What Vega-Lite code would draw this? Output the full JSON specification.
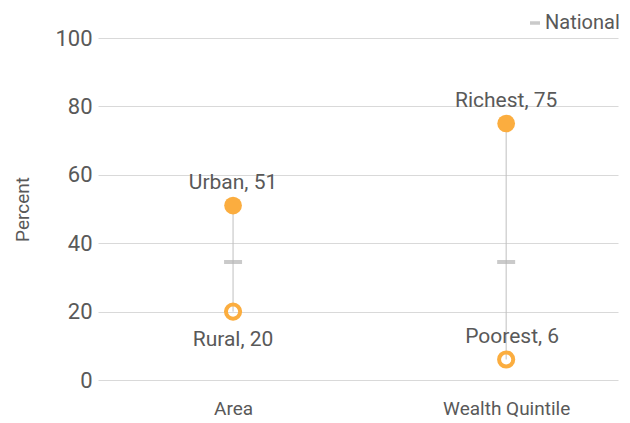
{
  "$schema": "https://vega.github.io/schema/vega-lite/v6.json",
  "width": 520,
  "height": 342,
  "autosize": {"type": "none"},
  "padding": {"left": 98, "top": 38, "right": 12, "bottom": 43},
  "background": "white",
  "config": {
    "view": {"stroke": null},
    "font": "Roboto",
    "axis": {"labelColor": "#595959", "titleColor": "#595959", "labelFont": "Roboto", "titleFont": "Roboto"}
  },
  "datasets": {
    "points": [
      {"group": "Area", "label": "Urban", "value": 51, "level": "high"},
      {"group": "Area", "label": "Rural", "value": 20, "level": "low"},
      {"group": "Wealth Quintile", "label": "Richest", "value": 75, "level": "high"},
      {"group": "Wealth Quintile", "label": "Poorest", "value": 6, "level": "low"}
    ],
    "ranges": [
      {"group": "Area", "low": 20, "high": 51},
      {"group": "Wealth Quintile", "low": 6, "high": 75}
    ],
    "national": [
      {"group": "Area", "value": 34.5, "series": "National"},
      {"group": "Wealth Quintile", "value": 34.5, "series": "National"}
    ]
  },
  "encoding": {
    "x": {
      "field": "group", "type": "nominal", "sort": ["Area", "Wealth Quintile"],
      "scale": {"type": "point", "padding": 0.452, "align": 0.547},
      "axis": {"title": null, "domain": false, "ticks": false, "labelAngle": 0, "labelFontSize": 19, "labelPadding": 19, "grid": false}
    }
  },
  "layer": [
    {
      "data": {"name": "ranges"},
      "mark": {"type": "rule", "color": "#bfbfbf", "strokeWidth": 1},
      "encoding": {
        "y": {
          "field": "low", "type": "quantitative",
          "scale": {"domain": [0, 100]},
          "axis": {"title": "Percent", "titleFontSize": 19, "titleFontWeight": "normal", "titleX": -66, "titleY": 171, "titleAngle": -90, "domain": false, "ticks": false, "labelFontSize": 22, "labelPadding": 6, "values": [0, 20, 40, 60, 80, 100], "gridColor": "#d9d9d9", "gridWidth": 1}
        },
        "y2": {"field": "high"}
      }
    },
    {
      "data": {"name": "national"},
      "mark": {"type": "tick", "size": 18, "thickness": 4, "orient": "horizontal"},
      "encoding": {
        "y": {"field": "value", "type": "quantitative"},
        "color": {
          "field": "series", "type": "nominal",
          "scale": {"range": ["#b3b3b3"]},
          "legend": {"title": null, "orient": "none", "legendX": 427, "legendY": -25, "symbolType": "M-1,-0.35L1,-0.35L1,0.35L-1,0.35Z", "symbolSize": 100, "symbolStrokeWidth": 0, "labelFontSize": 20, "labelColor": "#595959", "labelFont": "Roboto", "labelOffset": 0}
        }
      }
    },
    {
      "data": {"name": "points"},
      "transform": [{"filter": "datum.level == 'high'"}],
      "mark": {"type": "circle", "size": 314, "color": "#fbad3f", "opacity": 1},
      "encoding": {"y": {"field": "value", "type": "quantitative"}}
    },
    {
      "data": {"name": "points"},
      "transform": [{"filter": "datum.level == 'low'"}],
      "mark": {"type": "point", "shape": "circle", "size": 201, "strokeWidth": 4, "color": "#fbad3f", "filled": false, "opacity": 1},
      "encoding": {"y": {"field": "value", "type": "quantitative"}}
    },
    {
      "data": {"name": "points"},
      "transform": [{"filter": "datum.level == 'high'"}, {"calculate": "datum.label + ', ' + datum.value", "as": "text"}],
      "mark": {"type": "text", "dy": -23, "fontSize": 21, "color": "#595959", "baseline": "middle"},
      "encoding": {"y": {"field": "value", "type": "quantitative"}, "text": {"field": "text"}}
    },
    {
      "data": {"name": "points"},
      "transform": [{"filter": "datum.label == 'Poorest'"}, {"calculate": "datum.label + ', ' + datum.value", "as": "text"}],
      "mark": {"type": "text", "dy": -22, "dx": 6, "fontSize": 21, "color": "#595959", "baseline": "middle"},
      "encoding": {"y": {"field": "value", "type": "quantitative"}, "text": {"field": "text"}}
    },
    {
      "data": {"name": "points"},
      "transform": [{"filter": "datum.label == 'Rural'"}, {"calculate": "datum.label + ', ' + datum.value", "as": "text"}],
      "mark": {"type": "text", "dy": 28, "fontSize": 21, "color": "#595959", "baseline": "middle"},
      "encoding": {"y": {"field": "value", "type": "quantitative"}, "text": {"field": "text"}}
    }
  ]
}
